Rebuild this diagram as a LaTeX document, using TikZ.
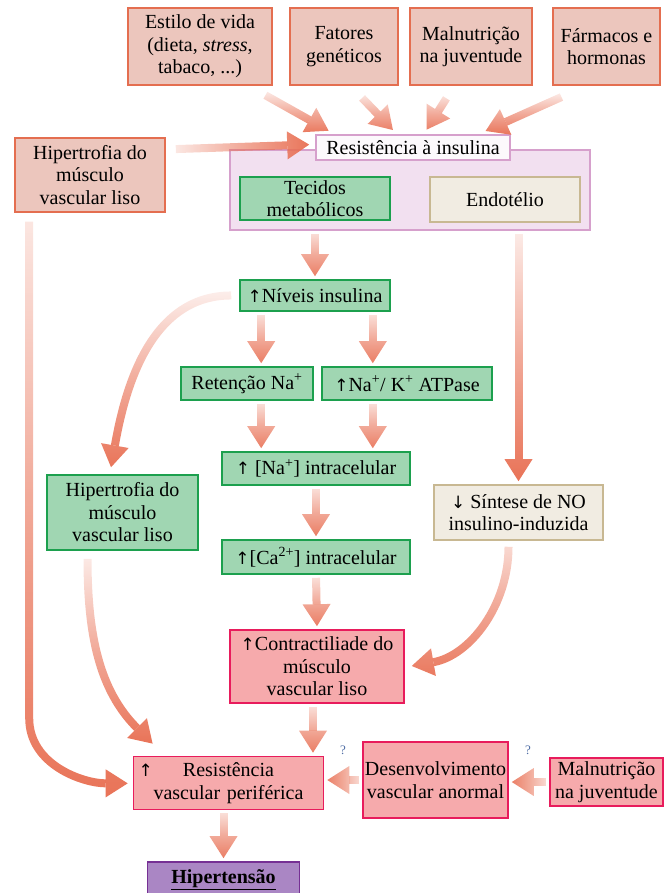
\documentclass[tikz,border=0pt]{standalone}
\usepackage{fontspec}
\setmainfont{Liberation Serif}
\newfontfamily\arrowfont{DejaVu Sans}
\usetikzlibrary{arrows.meta,positioning,calc,fadings}
\definecolor{hpCoral}{RGB}{232,112,84}
\definecolor{hpSalmon}{RGB}{236,198,189}
\definecolor{hpSalmonEdge}{RGB}{228,110,80}
\definecolor{hpLilac}{RGB}{242,224,240}
\definecolor{hpLilacEdge}{RGB}{214,160,204}
\definecolor{hpGreen}{RGB}{160,214,178}
\definecolor{hpGreenEdge}{RGB}{28,160,78}
\definecolor{hpBeige}{RGB}{241,236,226}
\definecolor{hpBeigeEdge}{RGB}{200,184,146}
\definecolor{hpRose}{RGB}{246,170,172}
\definecolor{hpRoseEdge}{RGB}{232,28,92}
\definecolor{hpPurple}{RGB}{170,134,196}
\definecolor{hpPurpleEdge}{RGB}{118,48,148}
\definecolor{hpQuery}{RGB}{80,110,165}
\newcommand{\ion}[1]{\textsuperscript{#1}}
\newcommand{\incr}{{\arrowfont\fontsize{17}{20}\selectfont ↑}}
\newcommand{\decr}{{\arrowfont\fontsize{17}{20}\selectfont ↓}}
\tikzfading[name=fadedown,top color=transparent!88,bottom color=transparent!0,middle color=transparent!40]
\tikzfading[name=faderight,left color=transparent!88,right color=transparent!0,middle color=transparent!40]
\tikzfading[name=fadeleft,left color=transparent!0,right color=transparent!88,middle color=transparent!40]

\begin{document}
\begin{tikzpicture}[
    x=1pt,y=-1pt,
    font=\fontsize{20}{22.5}\selectfont,
    box/.style={draw,line width=1.6pt,inner sep=1pt,align=center},
    cause/.style={box,draw=hpSalmonEdge,fill=hpSalmon,minimum height=77pt},
    tissue/.style={box,draw=hpGreenEdge,fill=hpGreen},
    endo/.style={box,draw=hpBeigeEdge,fill=hpBeige},
    effect/.style={box,draw=hpRoseEdge,fill=hpRose},
    query/.style={font=\fontsize{13}{14}\selectfont,text=hpQuery},
    fat/.style={line width=8pt,draw=hpCoral,shorten <=3pt,shorten >=3pt,
      -{Triangle[length=22pt,width=28pt,line width=0pt]}},
    flow/.style={fat,path fading=fadedown,fading transform={xscale=6}},
    flowleft/.style={fat,path fading=fadeleft,fading transform={yscale=6}},
    flowright/.style={fat,path fading=faderight,fading transform={yscale=6}},
    bend/.style={fat,path fading=fadedown,fading transform={#1}}
  ]
    \useasboundingbox (0,0) rectangle (667,893);
    % causes
    \node[cause,minimum width=144pt] (estilo) at (200,46.5) {Estilo de vida\\(dieta, \textit{stress},\\tabaco, ...)};
    \node[cause,minimum width=108pt] (fatores) at (344,46.5) {Fatores\\genéticos};
    \node[cause,minimum width=122pt] (malnut) at (471,46.5) {Malnutrição\\na juventude};
    \node[cause,minimum width=107pt] (farm) at (606.5,46.5) {Fármacos e\\hormonas};
    \node[cause,minimum width=150pt,minimum height=74pt] (hiper) at (90,175) {Hipertrofia do\\músculo\\vascular liso};

    % insulin resistance block
    \node[box,draw=hpLilacEdge,fill=hpLilac,minimum width=360pt,minimum height=80pt] (metab) at (410,190) {};
    \node[box,draw=hpLilacEdge,fill=hpLilac!20,minimum width=194pt,minimum height=25pt] (insul) at (413,147.5) {Resistência à insulina};
    \node[tissue,minimum width=150pt,minimum height=43pt] (tecid) at (315,198.5) {Tecidos\\metabólicos};
    \node[endo,minimum width=150pt,minimum height=45pt] (endot) at (505,199.5) {Endotélio};

    % cascade
    \node[tissue,minimum width=150pt,minimum height=31pt] (niveis) at (315,295.5) {\incr Níveis insulina};
    \node[tissue,minimum width=132pt,minimum height=33pt] (reten) at (247,383.5) {Retenção Na\ion{+}};
    \node[tissue,minimum width=170pt,minimum height=33pt] (atpase) at (407,383.5) {\incr Na\ion{+}/ K\ion{+} ATPase};
    \node[tissue,minimum width=188pt,minimum height=33pt] (naint) at (316,468.5) {\incr\ [Na\ion{+}] intracelular};
    \node[tissue,minimum width=151pt,minimum height=75pt] (hipgreen) at (122.5,512.5) {Hipertrofia do\\músculo\\vascular liso};
    \node[endo,minimum width=169pt,minimum height=55pt] (sintese) at (518.5,512.5) {\decr\ Síntese de NO\\insulino-induzida};
    \node[tissue,minimum width=188pt,minimum height=34pt] (caint) at (316,557) {\incr[Ca\ion{2+}] intracelular};
    \node[effect,minimum width=174pt,minimum height=73pt] (contr) at (317,666.5) {\incr Contractiliade do\\músculo\\vascular liso};
    \node[effect,text width=180pt,minimum width=190pt,minimum height=53pt] (resist) at (228.5,783) {\rlap{\incr}\hfill Resistência\hfill\mbox{}\\vascular periférica};
    \node[effect,minimum width=145pt,minimum height=76pt] (desenv) at (435.5,780) {Desenvolvimento\\vascular anormal};
    \node[effect,minimum width=113pt,minimum height=48pt] (malnutj) at (606.5,782) {Malnutrição\\na juventude};
    \node[box,draw=hpPurpleEdge,fill=hpPurple,minimum width=152pt,minimum height=36pt] (hipert) at (223.5,880) {\underline{\textbf{Hipertensão}}};
    \node[query] (q1) at (343,750) {?};
    \node[query] (q2) at (528,750) {?};

    % arrows into insulin resistance
    \draw[bend={xscale=1.5}] ($(estilo.south east)+(-10,8)$) -- ($(insul.north west)+(16,-2)$);
    \draw[bend={xscale=1.8}] ($(fatores.south)+(16,10)$) -- ($(insul.north)+(-18,-2)$);
    \draw[bend={xscale=1.8}] ($(malnut.south)+(-23,10)$) -- ($(insul.north)+(12,-2)$);
    \draw[bend={xscale=1.5}] ($(farm.south west)+(12,10)$) -- ($(insul.north east)+(-28,-2)$);
    \draw[flowright] ($(hiper.north east)+(7,12)$) -- ($(insul.west)+(-3,-3)$);

    % cascade arrows
    \coordinate (nl) at ([xshift=22pt]niveis.south west);
    \coordinate (nr) at ([xshift=-18pt]niveis.south east);
    \coordinate (cs) at ([xshift=-4pt]contr.south);
    \draw[flow] (tecid.south |- metab.south) -- (niveis.north);
    \draw[flow] (nl) -- (nl |- reten.north);
    \draw[flow] (nr) -- (nr |- atpase.north);
    \draw[flow] (nl |- reten.south) -- (nl |- naint.north);
    \draw[flow] (nr |- atpase.south) -- (nr |- naint.north);
    \draw[flow] (naint.south) -- (caint.north);
    \draw[flow] (caint.south) -- (contr.north);
    \draw[flow] (cs) -- (cs |- resist.north);
    \draw[flow] (resist.south -| hipert.north) -- (hipert.north);
    \draw[flow] (sintese.north |- metab.south) -- (sintese.north);
    \draw[flowleft] (desenv.west) -- (desenv.west -| resist.east);
    \draw[flowleft] (malnutj.west) -- (malnutj.west -| desenv.east);

    % curved arrows
    \draw[bend={yscale=1.1}] ($(hiper.south west)+(15,5)$) -- ++(0,500) to[out=-90,in=180] ($(resist.west)+(-2,0)$);
    \draw[bend={xscale=1.4}] ($(niveis.west)+(-5,0)$) to[out=180,in=80] ($(hipgreen.north)+(-12,-4)$);
    \draw[bend={xscale=1.4}] ($(hipgreen.south)+(-35,5)$) to[out=-90,in=135] ($(resist.north west)+(22,-10)$);
    \draw[bend={yscale=1.3}] ($(sintese.south)+(-10,3)$) to[out=-90,in=10] ($(contr.east)+(4,0)$);
  \end{tikzpicture}
\end{document}
